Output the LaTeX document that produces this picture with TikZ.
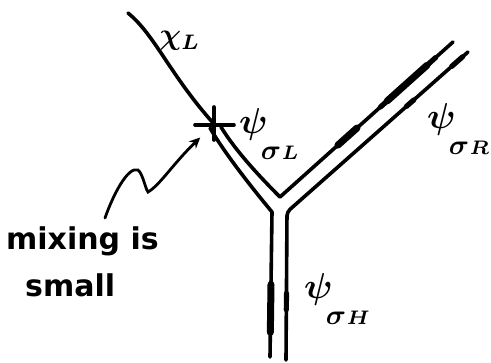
\documentclass[tikz,border=0pt]{standalone}
\usepackage{fontspec}
\usepackage{graphicx}
\newfontfamily\handfont{DejaVu Sans}
\usetikzlibrary{arrows.meta,calc}
\newcommand\psilab[1]{\scalebox{3.6}{\boldmath$\psi$}\kern-7pt\raisebox{-26pt}{\scalebox{2.8}{\boldmath$\sigma\kern0.3pt\scriptstyle #1$}}}
\begin{document}
\begin{tikzpicture}[x=1pt,y=-1pt,
  wire/.style={line width=3.6pt,line cap=round,line join=round},
  thickseg/.style={line width=7pt,line cap=round},
  midseg/.style={line width=5.2pt,line cap=round},
  lab/.style={inner sep=0pt},
  psinode/.style={inner sep=0pt,anchor=base west},
  handtext/.style={font=\handfont\bfseries\fontsize{30}{36}\selectfont,inner sep=0pt,anchor=base west}]
\useasboundingbox (0,0) rectangle (491,363);
\node[circle,minimum size=38pt,inner sep=0pt] (star) at (214,124) {};
\coordinate (chiS) at (128,13);
\coordinate (sO) at (210,128);
\coordinate (sI) at (221,127);
\coordinate (V) at (280,197);
\coordinate (oL) at (272,212);
\coordinate (oR) at (287,212);
\coordinate (bL) at (270,357);
\coordinate (bR) at (286,360);
\coordinate (tU) at (453,42);
\coordinate (tD) at (468,52);
\coordinate (w0) at (105,218);
% chi line and star
\draw[wire] (chiS) .. controls (155,35) and (170,75) .. (star.center);
\draw[wire] (star.center) ++(0,-17) -- ++(0,33);
\draw[wire] (star.center) ++(-19,1) -- ++(39,0);
% double lines
\draw[wire] (sO) .. controls (224,152) and (248,183) .. (oL) -- (bL);
\draw[wire] (sI) .. controls (235,150) and (258,175) .. (V) -- (tU);
\draw[wire,rounded corners=4pt] (tD) -- (oR) -- (bR);
% thick parts
\draw[thickseg] ($(V)!0.335!(tU)$) -- ($(V)!0.445!(tU)$);
\draw[midseg] ($(V)!0.58!(tU)$) -- ($(V)!0.9!(tU)$);
\draw[thickseg] ($(V)!0.62!(tU)$) -- ($(V)!0.85!(tU)$);
\draw[midseg] ($(oR)!0.66!(tD)$) -- ($(oR)!0.70!(tD)$);
\draw[midseg] ($(oR)!0.91!(tD)$) -- ($(oR)!0.97!(tD)$);
\draw[thickseg] ($(oL)!0.5!(bL)$) -- ($(oL)!0.83!(bL)$);
\draw[midseg] ($(oR)!0.55!(bR)$) -- ($(oR)!0.66!(bR)$);
% labels
\node[lab] (chi) at (180,41) {\scalebox{3}{\boldmath$\chi_L$}};
\node[psinode] (psiL) at (239,134) {\psilab{L}};
\node[psinode] (psiR) at (427,129) {\psilab{R}};
\node[psinode] (psiH) at (304,299) {\psilab{H}};
% text
\node[handtext] (mix1) at (6,250) {mixing is};
\node[handtext] (mix2) at (25,297) {small};
% wavy arrow
\draw[line width=2.8pt,line cap=round,-{Stealth[length=11pt,width=10pt]}] (w0) .. controls (113,195) and (128,166) .. (138,170) .. controls (143,174) and (145,188) .. (148,192) .. controls (160,185) and (172,165) .. (star);
\end{tikzpicture}
\end{document}
